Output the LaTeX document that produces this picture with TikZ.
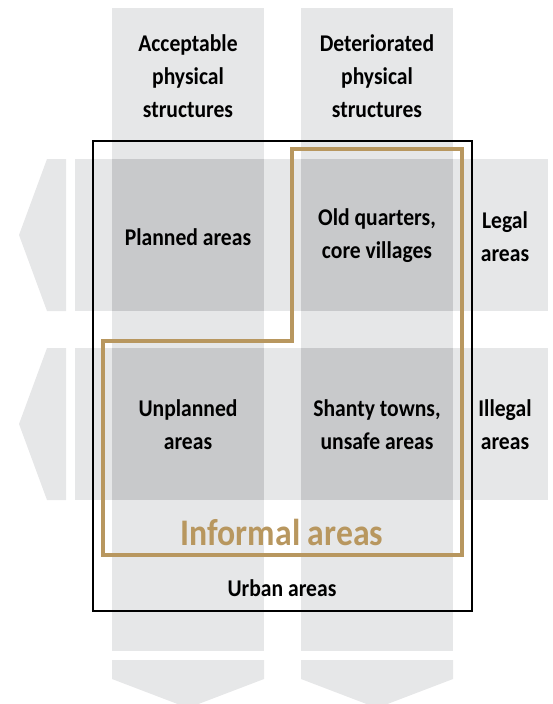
\documentclass[tikz,border=0pt]{standalone}
\usepackage{fontspec}
\setmainfont{Carlito}[FakeStretch=0.9]
\usepackage{xcolor}
\definecolor{lightgrey}{HTML}{E6E7E8}
\definecolor{darkgrey}{HTML}{C8C9CB}
\definecolor{gold}{HTML}{B8975F}

\begin{document}
\begin{tikzpicture}[x=1pt, y=-1pt,
    band/.style = {fill=lightgrey, draw=none},
    cell/.style = {fill=darkgrey, draw=none},
    label/.style = {align=center,
      font=\fontsize{24}{33}\selectfont\bfseries,
      text=black},
    informal/.style = {align=center,
      font=\fontsize{37.5}{42}\selectfont\bfseries,
      text=gold}]
    \useasboundingbox (0,0) rectangle (553,704);
    \foreach \x in {112,301} {
      \fill[band] (\x,8) rectangle ++(152,643);
      \fill[band] (\x,660) -- ++(152,0) -- ++(0,19) -- ++(-76,29) -- ++(-76,-29) -- cycle;
    }
    \foreach \y in {159,348} {
      \fill[band] (75,\y) rectangle (548,\y+152);
      \fill[band] (66,\y) -- ++(0,152) -- ++(-19,0) -- ++(-28,-76) -- ++(28,-76) -- cycle;
      \foreach \x in {112,301}
        \fill[cell] (\x,\y) rectangle ++(152,152);
    }
    \draw[line width=2.8pt] (93,141) rectangle (472,611);
    \draw[gold, line width=4.5pt] (292,149) -- (462,149) -- (462,555) -- (103,555)
      -- (103,341) -- (292,341) -- cycle;
    \node[label] (acceptable) at (188,76) {Acceptable\\physical\\structures};
    \node[label] (deteriorated) at (377,76) {Deteriorated\\physical\\structures};
    \node[label] (planned) at (188,237) {Planned areas};
    \node[label] (old) at (377,236) {Old quarters,\\core villages};
    \node[label] (legal) at (505,237) {Legal\\areas};
    \node[label] (unplanned) at (188,425) {Unplanned\\areas};
    \node[label] (shanty) at (377,425) {Shanty towns,\\unsafe areas};
    \node[label] (illegal) at (505,425) {Illegal\\areas};
    \node[informal] (informalareas) at (282,532) {Informal areas};
    \node[label] (urban) at (282,588) {Urban areas};
\end{tikzpicture}
\end{document}
